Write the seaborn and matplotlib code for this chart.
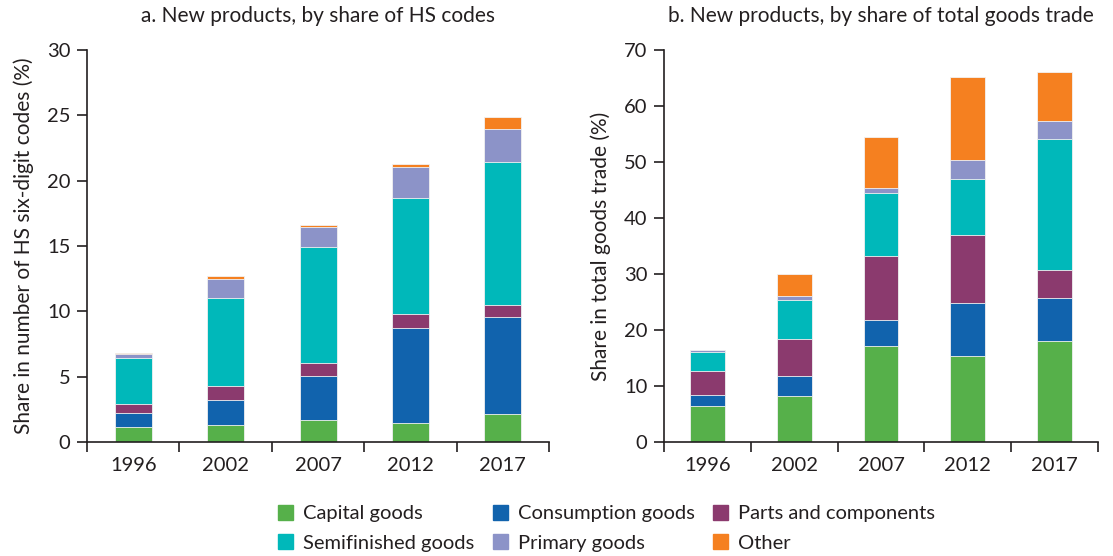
import numpy as np
import pandas as pd
import seaborn as sns
import matplotlib.pyplot as plt

years = ['1996', '2002', '2007', '2012', '2017']
categories = ['Capital goods', 'Consumption goods', 'Parts and components',
              'Semifinished goods', 'Primary goods', 'Other']
colors = ['#56b04a', '#1163ad', '#8b3a6e', '#00b8ba', '#8c93c8', '#f58020']

# panel a: share of HS six-digit codes (%)
hs_capital = [1.15, 1.28, 1.66, 1.46, 2.17]
hs_consumption = [1.07, 1.96, 3.42, 7.30, 7.41]
hs_parts = [0.72, 1.03, 1.00, 1.00, 0.87]
hs_semi = [3.52, 6.79, 8.81, 8.94, 10.95]
hs_primary = [0.31, 1.40, 1.53, 2.37, 2.58]
hs_other = [0.05, 0.23, 0.18, 0.23, 0.92]

# panel b: share of total goods trade (%)
tr_capital = [6.43, 8.21, 17.14, 15.30, 18.10]
tr_consumption = [2.02, 3.64, 4.71, 9.58, 7.67]
tr_parts = [4.23, 6.60, 11.36, 12.08, 5.00]
tr_semi = [3.45, 6.97, 11.19, 10.00, 23.40]
tr_primary = [0.24, 0.59, 0.96, 3.40, 3.21]
tr_other = [0.00, 3.93, 9.04, 14.76, 8.75]

sns.set_style('white')
plt.rcParams['font.family'] = ['Lato', 'DejaVu Sans']
txt = '#231f20'

fig = plt.figure(figsize=(11.13, 5.56), dpi=100)
ax1 = fig.add_axes([0.0782, 0.2050, 0.4151, 0.7050])
ax2 = fig.add_axes([0.5966, 0.2050, 0.3899, 0.7050])


def stacked(ax, series, ymax, ystep, title, ylabel):
    df = pd.DataFrame(dict(zip(categories, series)), index=years)
    cum = df.cumsum(axis=1)
    # draw tallest first so lower segments sit on top
    for cat, col in zip(reversed(categories), reversed(colors)):
        sns.barplot(x=years, y=cum[cat].values, color=col, width=0.4,
                    edgecolor='#f2f2f2', linewidth=0.6, ax=ax, label=cat,
                    saturation=1)
    ax.set_xlim(-0.5, 4.5)
    ax.set_ylim(0, ymax)
    ax.set_yticks(np.arange(0, ymax + 0.1, ystep))
    ax.set_xticks(np.arange(-0.5, 5, 1))
    ax.set_xticklabels([])
    ax.set_xticks(range(5), minor=True)
    ax.set_xticklabels(years, minor=True)
    ax.tick_params(axis='x', which='major', direction='out', length=7,
                   width=1.2, color=txt, bottom=True)
    ax.tick_params(axis='x', which='minor', length=0, pad=11,
                   labelsize=14.5, labelcolor=txt)
    ax.tick_params(axis='y', direction='out', length=7, width=1.2,
                   color=txt, left=True, labelsize=14.5, labelcolor=txt, pad=5)
    for s in ['top', 'right']:
        ax.spines[s].set_visible(False)
    for s in ['left', 'bottom']:
        ax.spines[s].set_color(txt)
        ax.spines[s].set_linewidth(1.2)
    ax.set_title(title, fontsize=15, color=txt, pad=20)
    ax.set_ylabel(ylabel, fontsize=15, color=txt, labelpad=9)
    ax.set_xlabel('')
    if ax.get_legend() is not None:
        ax.get_legend().remove()


stacked(ax1, [hs_capital, hs_consumption, hs_parts, hs_semi, hs_primary, hs_other],
        30, 5, 'a. New products, by share of HS codes',
        'Share in number of HS six-digit codes (%)')
stacked(ax2, [tr_capital, tr_consumption, tr_parts, tr_semi, tr_primary, tr_other],
        70, 10, 'b. New products, by share of total goods trade',
        'Share in total goods trade (%)')

handles = [plt.Rectangle((0, 0), 1, 1, color=c) for c in colors]
order = [0, 3, 1, 4, 2, 5]
fig.legend([handles[i] for i in order], [categories[i] for i in order],
           loc='center', bbox_to_anchor=(0.545, 0.05), ncol=3, frameon=False,
           fontsize=14.5, handlelength=0.75, handleheight=0.75, handletextpad=0.5,
           columnspacing=0.9, labelspacing=0.6, labelcolor=txt)

fig.savefig('out.png', dpi=100)
